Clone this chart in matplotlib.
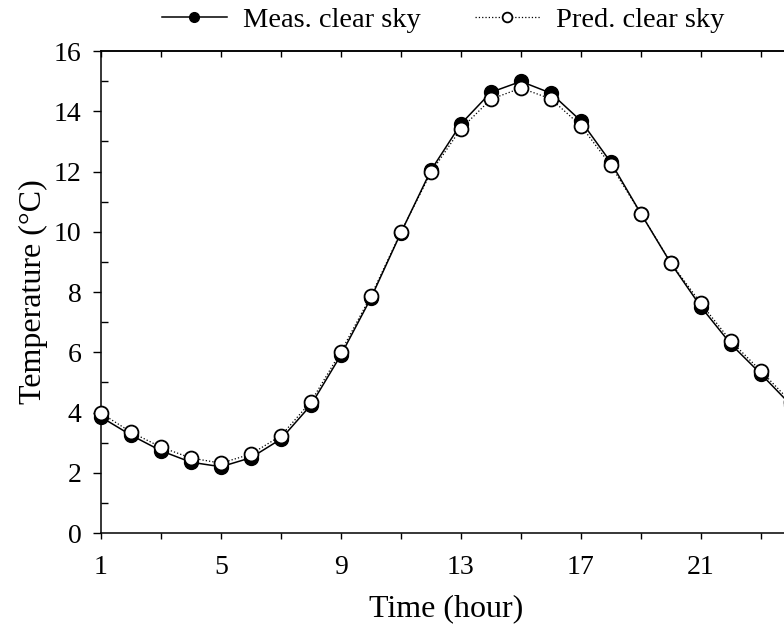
#!/usr/bin/env python3
import numpy as np
import matplotlib
matplotlib.use('Agg')
import matplotlib.pyplot as plt
from matplotlib.ticker import FixedLocator, FuncFormatter, MultipleLocator

# Hourly air temperature under clear sky, measured vs predicted
hours = np.arange(1, 25)
meas_clear = [3.85, 3.25, 2.73, 2.35, 2.2, 2.5, 3.12, 4.25, 5.91, 7.8, 9.97, 12.04,
              13.58, 14.63, 14.99, 14.6, 13.68, 12.3, 10.6, 8.95, 7.51, 6.27, 5.28, 4.25]
pred_clear = [3.98, 3.35, 2.85, 2.49, 2.32, 2.62, 3.23, 4.36, 6.02, 7.87, 9.99, 11.97,
              13.42, 14.4, 14.77, 14.41, 13.52, 12.2, 10.6, 8.97, 7.62, 6.37, 5.38, 4.35]

x_labels = [1, 5, 9, 13, 17, 21]

plt.rcParams['font.family'] = ['Liberation Serif', 'DejaVu Serif']
tick_size = 20
label_size = 23
legend_size = 20.5

fig = plt.figure(figsize=(7.84, 6.32), dpi=100)
ax = fig.add_axes([0.1288, 0.1566, 0.880, 0.7627])

ax.plot(hours, meas_clear, '-', color='black', lw=1.1, marker='o', ms=10,
        mfc='black', mec='black', mew=1.0, label='Meas. clear sky', clip_on=False, zorder=3)
ax.plot(hours, pred_clear, ':', color='black', lw=0.9, marker='o', ms=10,
        mfc='white', mec='black', mew=1.3, label='Pred. clear sky', clip_on=False, zorder=4)

ax.set_xlim(1, 24)
ax.set_ylim(0, 16)

# ticks on every odd hour, labels every 4 hours
odd_hours = np.arange(1, 25, 2)
ax.xaxis.set_major_locator(FixedLocator(odd_hours))
ax.xaxis.set_major_formatter(FuncFormatter(lambda v, p: '%d' % v if int(round(v)) in x_labels else ''))
ax.yaxis.set_major_locator(MultipleLocator(2))
ax.yaxis.set_minor_locator(MultipleLocator(1))

ax.tick_params(axis='x', which='major', direction='out', length=4, width=1.0,
               pad=12, labelsize=tick_size)
ax.tick_params(axis='y', which='major', direction='out', length=6, width=1.0,
               pad=8, labelsize=tick_size)
ax.tick_params(axis='y', which='minor', direction='in', length=5, width=1.0)

# top axis only carries inward ticks
top = ax.secondary_xaxis('top')
top.xaxis.set_major_locator(FixedLocator(odd_hours))
top.tick_params(direction='in', length=4, width=1.0, labeltop=False)

ax.spines['right'].set_visible(False)
for s in ['left', 'bottom', 'top']:
    ax.spines[s].set_linewidth(1.1)
top.spines['top'].set_linewidth(1.1)

ax.set_xlabel('Time (hour)', fontsize=label_size, labelpad=10)
ax.set_ylabel('Temperature (°C)', fontsize=label_size, labelpad=4)

ax.legend(loc='center left', bbox_to_anchor=(0.088, 1.064), ncol=2, frameon=False,
          fontsize=legend_size, handlelength=2.3, markerscale=0.7, columnspacing=1.9,
          handletextpad=0.55, borderaxespad=0.0, borderpad=0.0)

fig.savefig('out.png', dpi=100)
